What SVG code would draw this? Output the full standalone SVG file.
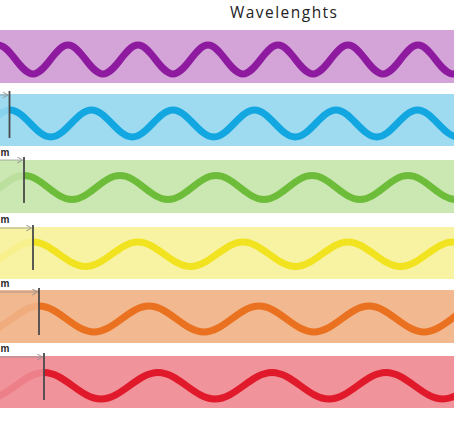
<svg xmlns="http://www.w3.org/2000/svg" width="454" height="441" viewBox="0 0 454 441">
  <defs>
    <style>
      .wave { fill: none; stroke-width: 7; stroke-linecap: butt; }
      .ghost { fill: none; stroke-width: 7; opacity: 0.16; }
      .mark { stroke: #4a4a4a; stroke-width: 1.8; }
      .arrow { stroke: #8c8c8c; stroke-width: 1; fill: none; opacity: 0.7; }
      .lbl { font-family: "Liberation Sans", Arial, sans-serif; font-weight: bold; font-size: 10px; fill: #2a2a2a; }
      .title { font-family: "Open Sans", "Liberation Sans", sans-serif; font-size: 15.5px; fill: #222; }
    </style>
    <marker id="chev" viewBox="0 0 8 8" refX="7" refY="4" markerWidth="7" markerHeight="7" markerUnits="userSpaceOnUse" orient="auto">
      <path d="M1 0.5 L7 4 L1 7.5" fill="none" stroke="#8c8c8c" stroke-width="1.2"/>
    </marker>
  </defs>
  <rect width="454" height="441" fill="#ffffff"/>

  <text class="title" x="230" y="18" textLength="107" lengthAdjust="spacing">Wavelenghts</text>

  <g id="violet">
    <rect x="0" y="30" width="454" height="53" fill="#d4a3d8"/>
    <path class="wave" stroke="#8e1a9f" d="M -37 74 C -24.4 74 -14.6 45 -2 45 S 20.4 74 33 74 S 55.4 45 68 45 S 90.4 74 103 74 S 125.4 45 138 45 S 160.4 74 173 74 S 195.4 45 208 45 S 230.4 74 243 74 S 265.4 45 278 45 S 300.4 74 313 74 S 335.4 45 348 45 S 370.4 74 383 74 S 405.4 45 418 45 S 440.4 74 453 74 S 475.4 45 488 45"/>
  </g>

  <g id="blue">
    <rect x="0" y="94" width="454" height="52" fill="#9edbf0"/>
    <path class="ghost" stroke="#11a6e0" d="M -30.75 137 C -16.08 137 -4.67 110 10 110"/>
    <path class="wave" stroke="#12a7e0" d="M 10 110 C 24.67 110 36.08 137 50.75 137 S 76.83 110 91.5 110 S 117.58 137 132.25 137 S 158.33 110 173 110 S 199.08 137 213.75 137 S 239.83 110 254.5 110 S 280.58 137 295.25 137 S 321.33 110 336 110 S 362.08 137 376.75 137 S 402.83 110 417.5 110 S 443.58 137 458.25 137"/>
    <line class="mark" x1="9.5" y1="91" x2="9.5" y2="138"/>
  </g>

  <g id="green">
    <rect x="0" y="160" width="454" height="53" fill="#cbe7b2"/>
    <path class="ghost" stroke="#6cbd3a" d="M -24 199.5 C -6.72 199.5 6.72 175.5 24 175.5"/>
    <path class="wave" stroke="#6dbd3b" d="M 24 175.5 C 41.28 175.5 54.72 199.5 72 199.5 S 102.72 175.5 120 175.5 S 150.72 199.5 168 199.5 S 198.72 175.5 216 175.5 S 246.72 199.5 264 199.5 S 294.72 175.5 312 175.5 S 342.72 199.5 360 199.5 S 390.72 175.5 408 175.5 S 438.72 199.5 456 199.5"/>
    <line class="mark" x1="24" y1="157" x2="24" y2="203"/>
    <text class="lbl" x="0.5" y="156">m</text>
  </g>

  <g id="yellow">
    <rect x="0" y="227" width="454" height="52" fill="#f8f3a2"/>
    <path class="ghost" stroke="#f0e31e" d="M -19.5 266.5 C -0.6 266.5 14.1 242 33 242"/>
    <path class="wave" stroke="#f1e320" stroke-width="6" d="M 33 242 C 51.9 242 66.6 266.5 85.5 266.5 S 119.1 242 138 242 S 171.6 266.5 190.5 266.5 S 224.1 242 243 242 S 276.6 266.5 295.5 266.5 S 329.1 242 348 242 S 381.6 266.5 400.5 266.5 S 434.1 242 453 242 S 486.6 266.5 505.5 266.5"/>
    <line class="mark" x1="33" y1="225" x2="33" y2="270"/>
    <text class="lbl" x="0.5" y="223">m</text>
  </g>

  <g id="orange">
    <rect x="0" y="290" width="454" height="53" fill="#f2b890"/>
    <path class="ghost" stroke="#e8701e" d="M -16 332 C 3.8 332 19.2 306 39 306"/>
    <path class="wave" stroke="#e9711f" d="M 39 306 C 58.8 306 74.2 332 94 332 S 129.2 306 149 306 S 184.2 332 204 332 S 239.2 306 259 306 S 294.2 332 314 332 S 349.2 306 369 306 S 404.2 332 424 332 S 459.2 306 479 306"/>
    <line class="mark" x1="39" y1="288" x2="39" y2="335"/>
    <text class="lbl" x="0.5" y="287">m</text>
  </g>

  <g id="red">
    <rect x="0" y="356" width="454" height="52" fill="#f0939b"/>
    <path class="ghost" stroke="#e01a2b" d="M -13 399 C 7.52 399 23.48 372.5 44 372.5"/>
    <path class="wave" stroke="#e01a2b" d="M 44 372.5 C 64.52 372.5 80.48 399 101 399 S 137.48 372.5 158 372.5 S 194.48 399 215 399 S 251.48 372.5 272 372.5 S 308.48 399 329 399 S 365.48 372.5 386 372.5 S 422.48 399 443 399 S 479.48 372.5 500 372.5"/>
    <line class="mark" x1="44" y1="353" x2="44" y2="400"/>
    <text class="lbl" x="0.5" y="352">m</text>
  </g>

  <g id="connectors">
    <line class="arrow" x1="0" y1="95" x2="8" y2="95" marker-end="url(#chev)"/>
    <line class="arrow" x1="0" y1="160" x2="22.5" y2="160" marker-end="url(#chev)"/>
    <line class="arrow" x1="0" y1="228" x2="31.5" y2="228" marker-end="url(#chev)"/>
    <line class="arrow" x1="0" y1="292" x2="37.5" y2="292" marker-end="url(#chev)"/>
    <line class="arrow" x1="0" y1="357" x2="42.5" y2="357" marker-end="url(#chev)"/>
  </g>
</svg>
